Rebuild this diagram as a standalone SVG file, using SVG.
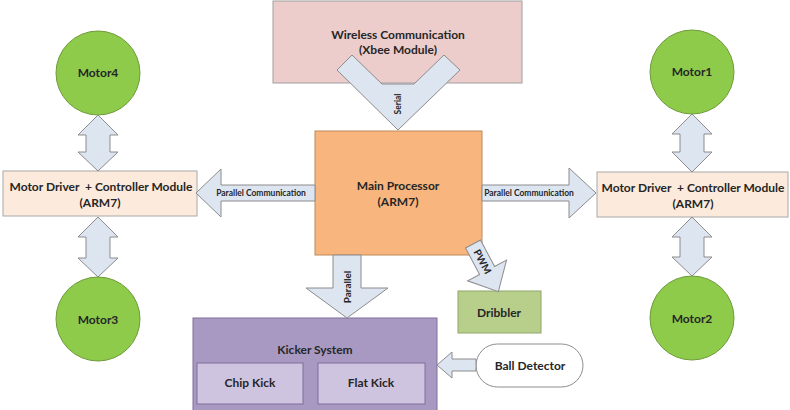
<svg xmlns="http://www.w3.org/2000/svg" width="790" height="410" viewBox="0 0 790 410">
<style>
text{font-family:Lato,"Liberation Sans",sans-serif;font-weight:bold;fill:#262626;text-anchor:middle;white-space:pre}
.t{font-size:12px}
.s{font-size:8.5px}
.arr{fill:#DDE5F1;stroke:#8C8C8C;stroke-width:1}
.motor{fill:#8ECB4B;stroke:#6E9A3A;stroke-width:1}
.drv{fill:#FCEBDD;stroke:#A8A8A8;stroke-width:1}
</style>
<rect width="790" height="410" fill="#ffffff"/>
<g id="wireless"><rect x="273" y="1" width="249" height="82" fill="#ECCDCC" stroke="#A0A0A0"/>
<text class="t" x="398" y="39">Wireless Communication</text><text class="t" x="398" y="54">(Xbee Module)</text></g>
<g id="main"><rect x="315" y="131" width="167" height="124" fill="#F8B57D" stroke="#C0895A"/>
<text class="t" x="398" y="190">Main Processor</text><text class="t" x="398" y="206">(ARM7)</text></g>
<g id="driverL"><rect class="drv" x="3" y="171" width="194" height="45"/>
<text class="t" x="101" y="191">Motor Driver  + Controller Module</text><text class="t" x="100" y="207">(ARM7)</text></g>
<g id="driverR"><rect class="drv" x="597" y="172" width="191" height="45"/>
<text class="t" x="693" y="192">Motor Driver  + Controller Module</text><text class="t" x="693" y="208">(ARM7)</text></g>
<g id="motor4"><circle class="motor" cx="98" cy="73" r="42"/><text class="t" x="98" y="77">Motor4</text></g>
<g id="motor3"><circle class="motor" cx="98" cy="319" r="42"/><text class="t" x="98" y="324">Motor3</text></g>
<g id="motor1"><circle class="motor" cx="692" cy="72" r="42"/><text class="t" x="692" y="76">Motor1</text></g>
<g id="motor2"><circle class="motor" cx="692" cy="318" r="42"/><text class="t" x="692" y="323">Motor2</text></g>
<g id="dribbler"><rect x="458" y="291" width="83" height="42" fill="#B7CF8A" stroke="#8FA66A"/><text class="t" x="499" y="317">Dribbler</text></g>
<g id="kicker"><rect x="193" y="318" width="244" height="95" fill="#A899C3" stroke="#7E6F9A"/>
<text class="t" x="315" y="354">Kicker System</text></g>
<g id="chip"><rect x="197" y="363" width="106" height="41" fill="#CFC4E0" stroke="#7E6F9A"/><text class="t" x="250" y="387">Chip Kick</text></g>
<g id="flat"><rect x="318" y="363" width="107" height="41" fill="#CFC4E0" stroke="#7E6F9A"/><text class="t" x="371" y="387">Flat Kick</text></g>
<g id="ball"><rect x="476" y="344" width="107" height="43" rx="21.5" fill="#ffffff" stroke="#8C8C8C"/><text class="t" x="530" y="370">Ball Detector</text></g>
<g id="connectors">
<polygon class="arr" points="352,55 382,84 414,84 444,55 460,70 398,130 337,70"/>
<text class="s" transform="translate(401,104) rotate(-90)">Serial</text>
<path class="arr" d="M482,185 L569,185 L569,168 L596,193 L569,218 L569,201 L482,201 Z"/>
<text class="s" x="529" y="196">Parallel Communication</text>
<path class="arr" d="M315,185 L221,185 L221,169 L196,193 L221,217 L221,201 L315,201 Z"/>
<text class="s" x="261" y="196">Parallel Communication</text>
<path class="arr" d="M333,255 L361,255 L361,288 L388,288 L347,318 L306,288 L333,288 Z"/>
<text style="font-size:10px" transform="translate(351,287) rotate(-90)">Parallel</text>
<g transform="translate(473,244) rotate(62)">
<path class="arr" d="M0,-8.5 L30,-8.5 L30,-22 L54,0 L30,22 L30,8.5 L0,8.5 Z"/>
<text style="font-size:10px" x="20" y="3.5">PWM</text></g>
<path class="arr" d="M476,359 L452,359 L452,352 L437,365 L452,378 L452,371 L476,371 Z"/>
<path class="arr" d="M98,115 L118,135 L110,135 L110,152 L118,152 L98,171 L78,152 L86,152 L86,135 L78,135 Z"/>
<path class="arr" d="M98,217 L118,237 L110,237 L110,258 L118,258 L98,277 L78,258 L86,258 L86,237 L78,237 Z"/>
<path class="arr" d="M692,114 L712,134 L704,134 L704,152 L712,152 L692,172 L672,152 L680,152 L680,134 L672,134 Z"/>
<path class="arr" d="M692,217 L712,237 L704,237 L704,257 L712,257 L692,276 L672,257 L680,257 L680,237 L672,237 Z"/>
</g>
</svg>
